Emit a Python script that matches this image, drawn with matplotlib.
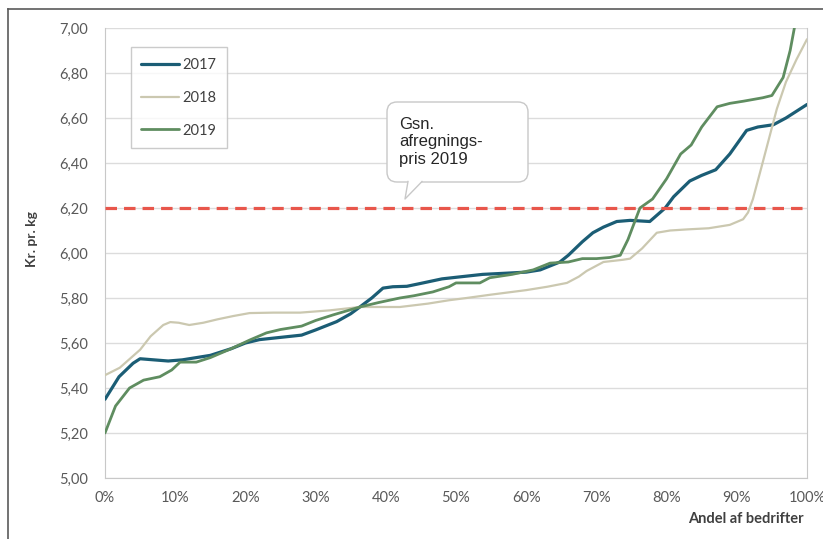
import matplotlib
matplotlib.use("Agg")
import matplotlib.pyplot as plt
from matplotlib.patches import FancyBboxPatch, Polygon
from matplotlib.lines import Line2D
from matplotlib.transforms import Affine2D
from matplotlib.ticker import FuncFormatter

# Andel af bedrifter (%) og afregningspris (kr. pr. kg)
x17 = [0, 2, 4, 5, 7, 9, 11, 13, 15, 18, 20, 22, 25, 28, 30, 33, 35, 36.3, 38, 39.6, 41, 43, 45,
       48, 50, 53.8, 57, 60, 62, 64.8, 66, 68, 69.5, 71, 72.9, 74.8, 77.6, 79.8, 81, 83.3, 85,
       87, 89, 91.4, 93, 95.2, 97, 100]
y17 = [5.35, 5.45, 5.51, 5.53, 5.525, 5.52, 5.525, 5.535, 5.545, 5.575, 5.60, 5.615, 5.625,
       5.635, 5.658, 5.695, 5.73, 5.76, 5.80, 5.844, 5.85, 5.852, 5.865, 5.885, 5.892, 5.905,
       5.91, 5.915, 5.925, 5.96, 5.99, 6.05, 6.09, 6.115, 6.14, 6.145, 6.14, 6.20, 6.25, 6.32,
       6.345, 6.37, 6.44, 6.545, 6.56, 6.57, 6.60, 6.66]

x18 = [0, 2.1, 5, 6.5, 8.3, 9.3, 10.5, 12, 14, 16, 18.3, 20.6, 24, 27.8, 32, 36.3, 42, 46,
       49, 51.5, 55, 60, 63, 65.8, 67.5, 68.6, 71, 73.8, 74.8, 76.5, 78.6, 80.5, 83, 86, 89,
       90.9, 91.6, 92.3, 93.5, 95.7, 97, 98.5, 100]
y18 = [5.457, 5.49, 5.57, 5.63, 5.68, 5.693, 5.69, 5.68, 5.69, 5.705, 5.72, 5.733, 5.735,
       5.735, 5.745, 5.76, 5.76, 5.775, 5.79, 5.80, 5.815, 5.835, 5.85, 5.867, 5.895, 5.92,
       5.96, 5.97, 5.975, 6.02, 6.09, 6.10, 6.105, 6.11, 6.125, 6.15, 6.18, 6.24, 6.38, 6.64,
       6.76, 6.86, 6.95]

x19 = [0, 1.5, 3.5, 5.5, 7.8, 9.5, 10.7, 13, 15, 18, 20.6, 23, 25, 28, 30, 32.5, 36.3, 39,
       42, 44, 46.7, 49, 50, 53.4, 54.8, 58, 61, 63.4, 66, 68, 70, 71.9, 73.4, 74.5, 76.2, 78,
       80, 82, 83.5, 85, 87.2, 89, 91, 93.7, 95, 96.6, 97.6, 98.2]
y19 = [5.20, 5.32, 5.40, 5.435, 5.45, 5.48, 5.515, 5.515, 5.535, 5.575, 5.613, 5.645, 5.66,
       5.675, 5.70, 5.725, 5.76, 5.78, 5.80, 5.81, 5.827, 5.85, 5.867, 5.867, 5.89, 5.905,
       5.925, 5.955, 5.96, 5.975, 5.975, 5.98, 5.99, 6.06, 6.20, 6.24, 6.33, 6.44, 6.48, 6.56,
       6.65, 6.665, 6.675, 6.69, 6.70, 6.78, 6.90, 7.00]

gns_pris = 6.20
series = [("2017", x17, y17, "#1b5d75", 2.3),
          ("2018", x18, y18, "#cbc8b0", 1.6),
          ("2019", x19, y19, "#5f8d60", 2.0)]

W, H = 823, 539
fig = plt.figure(figsize=(W / 100, H / 100), dpi=100)
ax = fig.add_axes([105 / W, 1 - 478 / H, 702 / W, 450 / H])

fam = ["Lato", "DejaVu Sans"]

for name, xs, ys, col, lw in series:
    ax.plot(xs, ys, color=col, lw=lw, label=name, solid_capstyle="round", zorder=3)

ax.axhline(gns_pris, color="#e8564b", lw=2.3, dashes=(3.6, 2.2), zorder=4)

ax.set_xlim(0, 100)
ax.set_ylim(5.0, 7.0)
ax.set_xticks(range(0, 101, 10))
ax.set_yticks([5.0 + 0.2 * i for i in range(11)])
ax.xaxis.set_major_formatter(FuncFormatter(lambda v, p: f"{v:.0f}%"))
ax.yaxis.set_major_formatter(FuncFormatter(lambda v, p: f"{v:.2f}".replace(".", ",")))
for lab in ax.get_xticklabels() + ax.get_yticklabels():
    lab.set_fontfamily(fam)
    lab.set_fontsize(10.5)
    lab.set_color("#595959")
ax.tick_params(axis="y", length=0, pad=12)
ax.tick_params(axis="x", length=0, pad=9)
ax.grid(axis="y", color="#dcdcdc", lw=1)
ax.set_axisbelow(True)
for s in ax.spines.values():
    s.set_color("#c8c8c8")
ax.spines["top"].set_visible(False)

ax.set_ylabel("Kr. pr. kg", fontsize=10, fontweight="bold", color="#404040", family=fam)
ax.yaxis.set_label_coords(-0.095, 0.53)
ax.set_xlabel("Andel af bedrifter", fontsize=10.5, fontweight="bold", color="#404040",
              family=fam)
ax.xaxis.set_label_coords(0.995, -0.075)
ax.xaxis.label.set_horizontalalignment("right")

leg = ax.legend(loc="upper left", bbox_to_anchor=(0.026, 0.973), frameon=True,
                fancybox=False, edgecolor="#bfbfbf", handlelength=2.6,
                handletextpad=0.25, labelspacing=1.3, borderpad=0.7,
                prop={"family": fam, "size": 10.5})
leg.get_frame().set_linewidth(1)
for t in leg.get_texts():
    t.set_color("#404040")

# callout bubble in pixel coordinates
pix = Affine2D().scale(1, -1).translate(0, H)
box = FancyBboxPatch((387, 102), 141, 80, boxstyle="round,pad=0,rounding_size=10",
                     transform=pix, facecolor="white", edgecolor="#c8c8c8", lw=1,
                     zorder=6)
fig.add_artist(box)
fig.add_artist(Polygon([(408, 181), (405, 199), (422, 181)], closed=True,
                       transform=pix, facecolor="white", edgecolor="none", zorder=7))
fig.add_artist(Line2D([408, 405, 422], [181.5, 199, 181.5], transform=pix,
                      color="#c8c8c8", lw=1, zorder=8))
fig.text(399, 117, "Gsn.\nafregnings-\npris 2019", transform=pix, ha="left", va="top",
         fontsize=12, family=["Liberation Sans", "DejaVu Sans"], color="#262626",
         linespacing=1.2, zorder=9)

# outer frame (top and left)
fig.add_artist(Line2D([8, W], [9, 9], transform=pix, color="#5a5a5a", lw=1.2))
fig.add_artist(Line2D([8, 8], [9, H], transform=pix, color="#5a5a5a", lw=1.2))

fig.savefig("out.png", dpi=100, facecolor="white")
